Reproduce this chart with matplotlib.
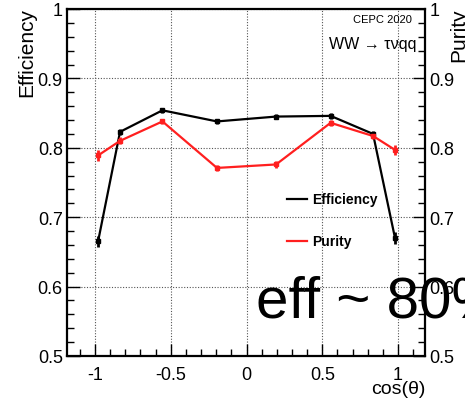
import matplotlib
matplotlib.use("Agg")
import matplotlib.pyplot as plt
from matplotlib.ticker import MultipleLocator, FuncFormatter

# binned in cos(theta)
cos_theta = [-0.98, -0.835, -0.555, -0.195, 0.195, 0.555, 0.835, 0.98]
efficiency = [0.665, 0.823, 0.854, 0.838, 0.845, 0.846, 0.820, 0.670]
eff_err = [0.008, 0.004, 0.004, 0.004, 0.004, 0.004, 0.004, 0.008]
purity = [0.789, 0.810, 0.838, 0.771, 0.776, 0.836, 0.817, 0.797]
pur_err = [0.008, 0.005, 0.004, 0.004, 0.005, 0.004, 0.004, 0.007]

plt.rcParams["font.family"] = ["Liberation Sans", "DejaVu Sans"]

fig = plt.figure(figsize=(4.65, 4.02), dpi=100)
ax = fig.add_axes([67 / 465, 1 - 357 / 402, (425 - 67) / 465, (357 - 10) / 402])

ax.plot(cos_theta, efficiency, color="black", lw=1.6, zorder=3)
ax.errorbar(cos_theta, efficiency, yerr=eff_err, fmt="s", color="black",
            ms=2.5, elinewidth=2, capsize=0, zorder=4)
ax.plot(cos_theta, purity, color="#ff1f1f", lw=1.6, zorder=3)
ax.errorbar(cos_theta, purity, yerr=pur_err, fmt="s", color="#ff1f1f",
            ms=2.5, elinewidth=2, capsize=0, zorder=4)

ax.set_xlim(-1.185, 1.178)
ax.set_ylim(0.5, 1.0)
ax.xaxis.set_major_locator(MultipleLocator(0.5))
ax.xaxis.set_minor_locator(MultipleLocator(0.1))
ax.yaxis.set_major_locator(MultipleLocator(0.1))
ax.yaxis.set_minor_locator(MultipleLocator(0.02))
fmt = FuncFormatter(lambda v, p: f"{v:g}")
ax.xaxis.set_major_formatter(fmt)
ax.yaxis.set_major_formatter(fmt)
ax.grid(True, which="major", ls=(0, (1, 1.5)), color="#555555", lw=0.8)
ax.tick_params(which="both", direction="in", top=False, right=True,
               labelright=True, labelsize=13, width=1)
ax.tick_params(which="major", length=9)
ax.tick_params(which="minor", length=5)
ax.tick_params(axis="x", pad=7)
ax.tick_params(axis="y", pad=3)
for s in ax.spines.values():
    s.set_linewidth(1.6)

fig.text(27 / 465, 1 - 8 / 402, "Efficiency", rotation=90, ha="center",
         va="top", fontsize=15)
fig.text(459 / 465, 1 - 8 / 402, "Purity", rotation=90, ha="center",
         va="top", fontsize=15)
fig.text(425 / 465, 1 - 390 / 402, "cos(θ)", ha="right", va="center",
         fontsize=14)

fig.text(412 / 465, 1 - 20 / 402, "CEPC 2020", ha="right", va="center",
         fontsize=8)
fig.text(416 / 465, 1 - 44 / 402, "WW → τνqq", ha="right", va="center",
         fontsize=11.5)

# legend
ax.plot([0.615, 0.67], [0.452, 0.452], color="black", lw=1.6,
        transform=ax.transAxes, zorder=5)
ax.text(0.685, 0.452, "Efficiency", transform=ax.transAxes, va="center",
        fontsize=10, fontweight="bold", zorder=5)
ax.plot([0.615, 0.67], [0.331, 0.331], color="#ff1f1f", lw=1.6,
        transform=ax.transAxes, zorder=5)
ax.text(0.685, 0.331, "Purity", transform=ax.transAxes, va="center",
        fontsize=10, fontweight="bold", zorder=5)

fig.text(256 / 465, 1 - 318 / 402, "eff ~ 80%", ha="left", va="baseline",
         fontsize=42, zorder=10)

fig.savefig("out.png", dpi=100)
